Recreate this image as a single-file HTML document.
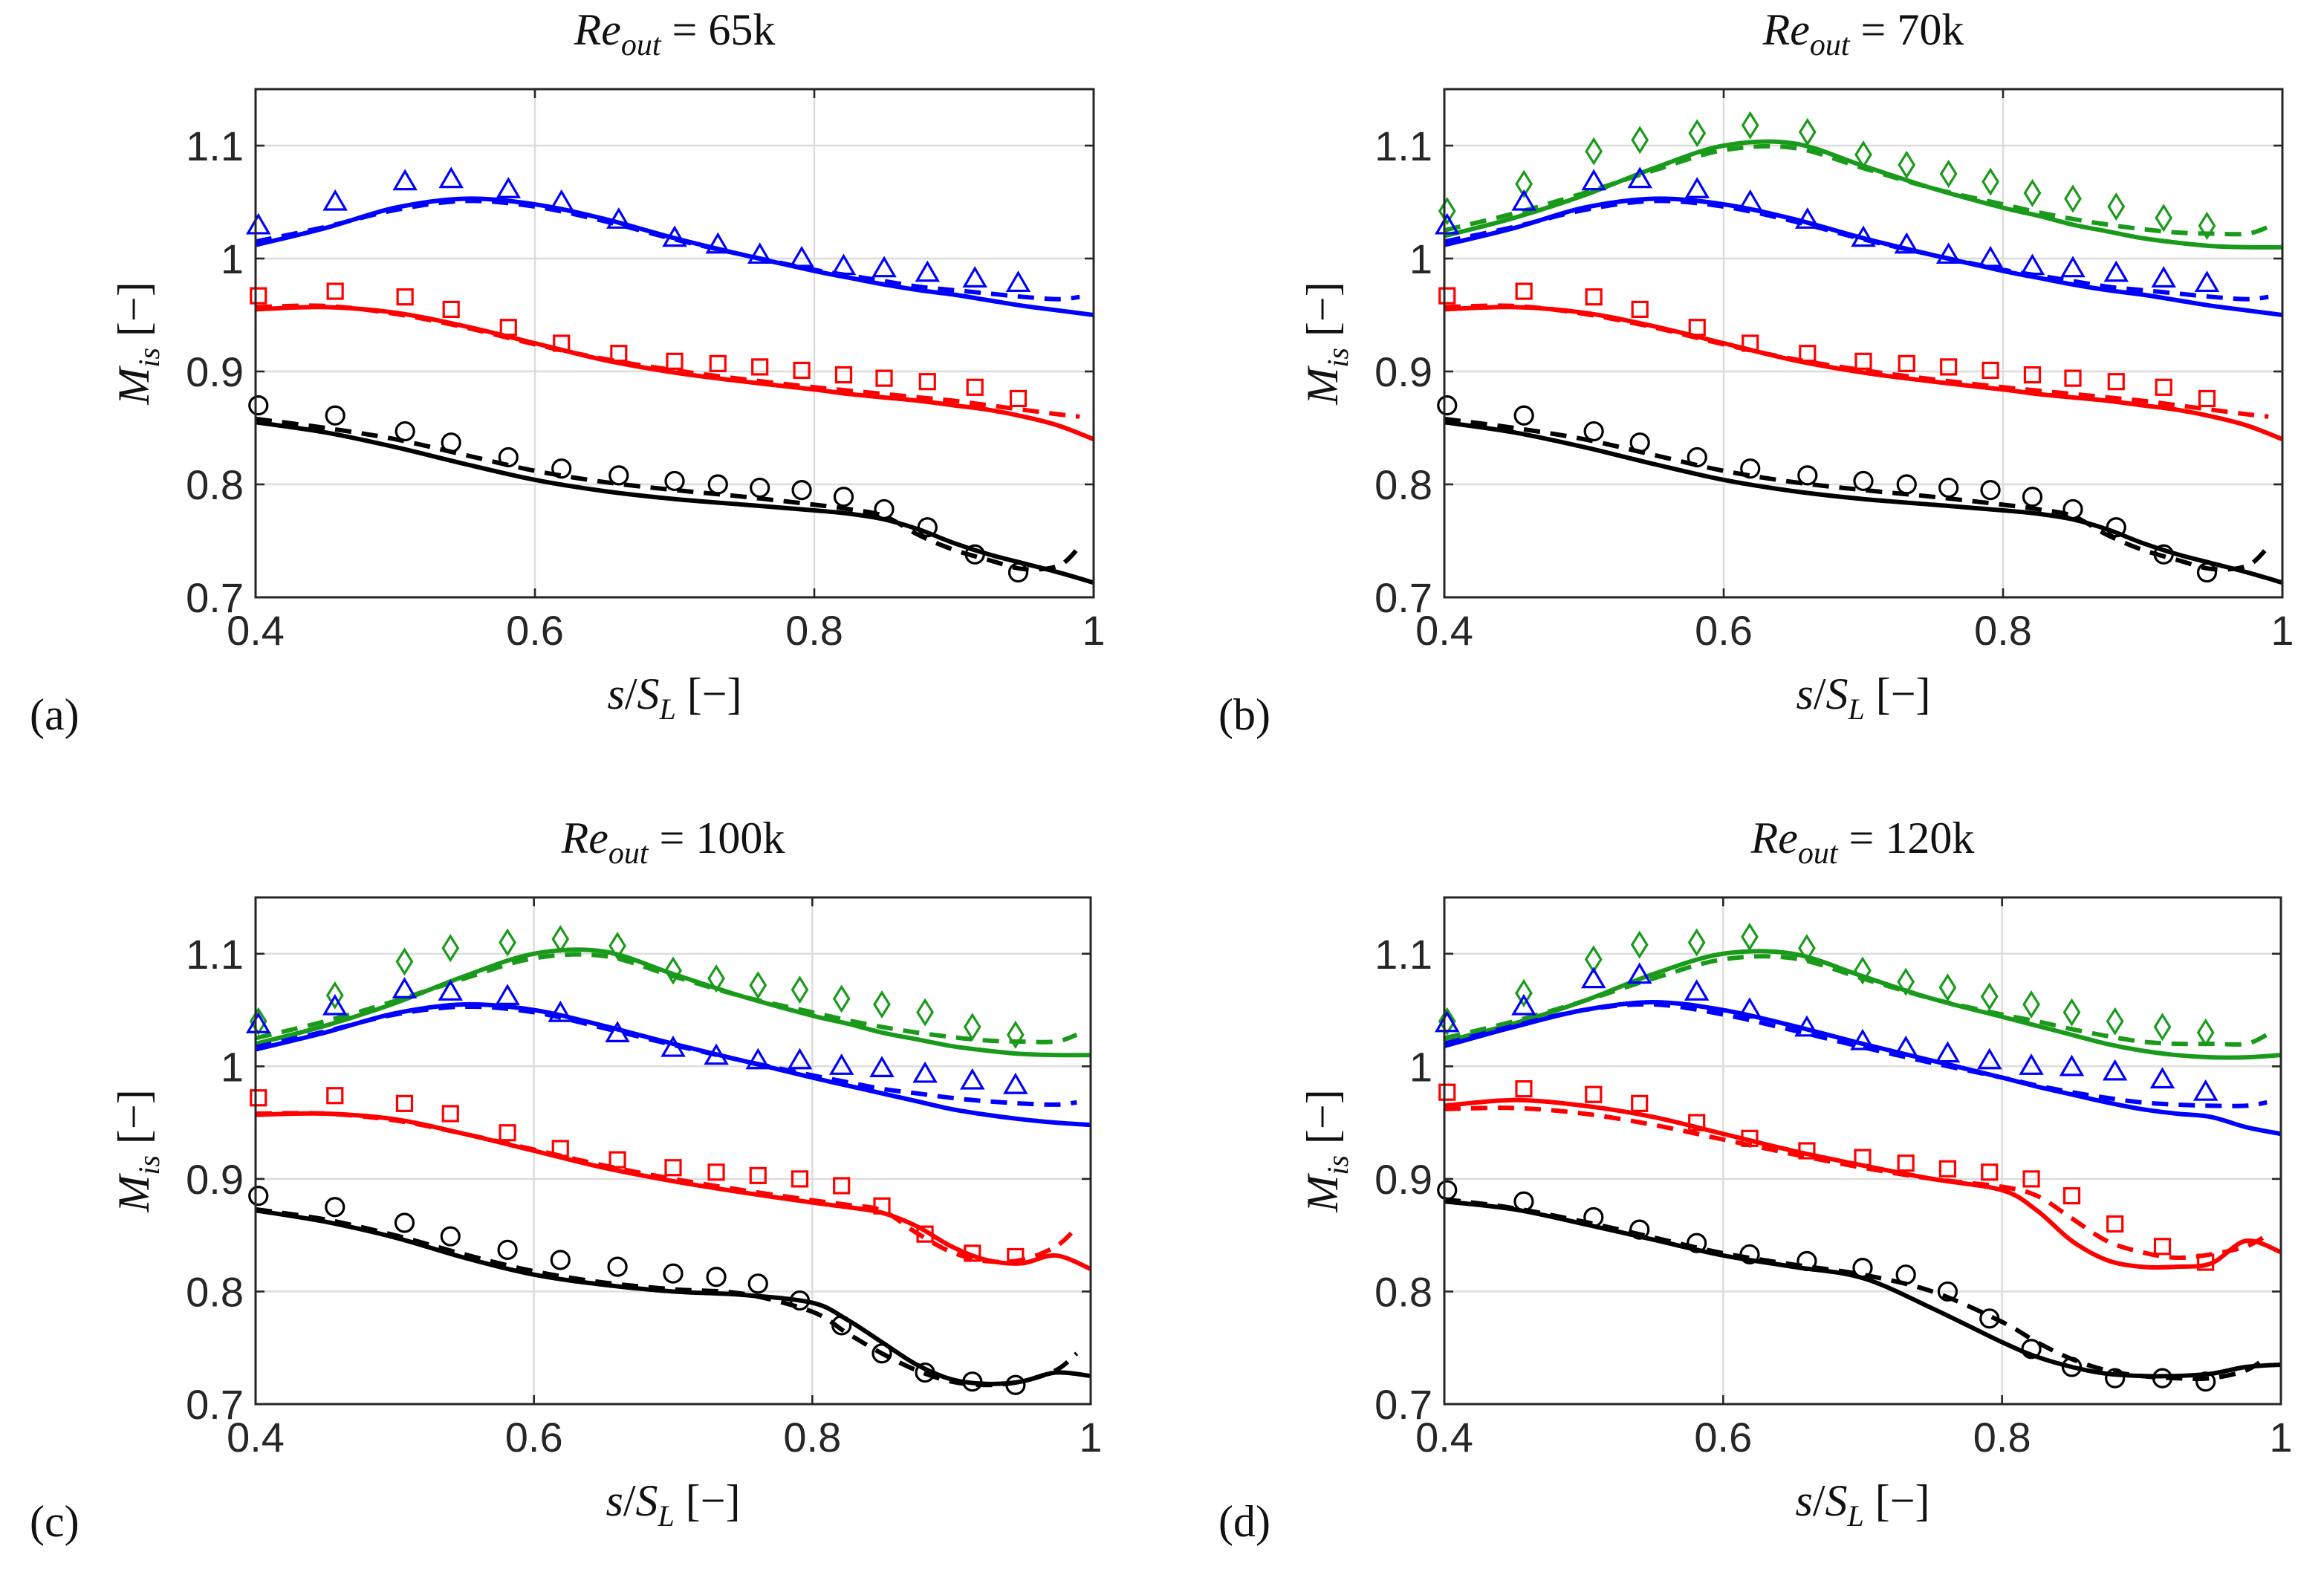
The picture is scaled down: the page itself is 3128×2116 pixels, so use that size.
<!DOCTYPE html>
<html><head><meta charset="utf-8">
<style>
html,body{margin:0;padding:0;background:#fff;}
svg{display:block;}
.tick{font-family:"Liberation Sans",sans-serif;font-size:28px;fill:#262626;}
.lab{font-family:"Liberation Serif",serif;font-size:30px;fill:#111;}
</style></head>
<body>
<svg id="chart" width="3128" height="2116" viewBox="0 0 1564 1058" xmlns="http://www.w3.org/2000/svg"></svg>
<script>
const lineX=[0.4,0.45,0.5,0.55,0.6,0.65,0.7,0.75,0.8,0.825,0.85,0.875,0.9,0.925,0.95,0.975,1.0];
const markerX=[0.402,0.457,0.507,0.540,0.581,0.619,0.660,0.700,0.731,0.761,0.791,0.821,0.850,0.881,0.915,0.946];
const panelTitles=["65k","70k","100k","120k"];
const panelLetters=["(a)","(b)","(c)","(d)"];
const xTicks=[0.4,0.6,0.8,1];
const yTicks=[0.7,0.8,0.9,1,1.1];
// panel a
const aBlueSolid=[1.012,1.027,1.045,1.053,1.048,1.035,1.018,1.003,0.989,0.983,0.977,0.972,0.968,0.963,0.958,0.954,0.950];
const aBlueDash=[1.015,1.028,1.043,1.051,1.046,1.033,1.017,1.003,0.990,0.985,0.980,0.975,0.972,0.969,0.966,0.964,0.966];
const aRedSolid=[0.955,0.957,0.952,0.940,0.925,0.910,0.899,0.891,0.884,0.880,0.877,0.874,0.870,0.866,0.860,0.852,0.840];
const aRedDash=[0.957,0.958,0.951,0.939,0.924,0.911,0.901,0.893,0.886,0.883,0.880,0.877,0.874,0.870,0.866,0.862,0.860];
const aBlackSolid=[0.855,0.846,0.833,0.818,0.804,0.794,0.787,0.782,0.777,0.774,0.769,0.760,0.748,0.738,0.730,0.722,0.713];
const aBlackDash=[0.858,0.850,0.840,0.826,0.812,0.802,0.795,0.789,0.782,0.778,0.772,0.755,0.742,0.733,0.725,0.728,0.745];
const aTri=[1.029,1.050,1.068,1.070,1.061,1.050,1.034,1.018,1.012,1.003,1.000,0.993,0.991,0.987,0.982,0.978];
const aSq=[0.967,0.971,0.966,0.955,0.939,0.925,0.916,0.909,0.907,0.904,0.901,0.897,0.894,0.891,0.886,0.876];
const aCirc=[0.870,0.861,0.847,0.837,0.824,0.814,0.808,0.803,0.800,0.797,0.795,0.789,0.778,0.762,0.738,0.722];
// panel b
const bGreenSolid=[1.020,1.036,1.056,1.080,1.100,1.102,1.082,1.062,1.045,1.038,1.030,1.024,1.018,1.014,1.011,1.010,1.010];
const bGreenDash=[1.025,1.040,1.058,1.078,1.096,1.098,1.080,1.062,1.048,1.041,1.035,1.030,1.026,1.023,1.022,1.022,1.028];
const bDia=[1.042,1.066,1.095,1.105,1.111,1.118,1.112,1.092,1.083,1.075,1.068,1.058,1.053,1.046,1.036,1.029];
// panel c
const cBlueSolid=[1.015,1.030,1.047,1.055,1.050,1.036,1.020,1.005,0.990,0.983,0.976,0.969,0.962,0.957,0.953,0.950,0.948];
const cBlueDash=[1.017,1.031,1.046,1.053,1.048,1.034,1.019,1.005,0.992,0.986,0.980,0.976,0.972,0.969,0.967,0.966,0.968];
const cRedSolid=[0.957,0.958,0.953,0.940,0.925,0.910,0.898,0.888,0.879,0.875,0.870,0.858,0.840,0.828,0.825,0.832,0.820];
const cRedDash=[0.958,0.958,0.952,0.940,0.926,0.912,0.900,0.890,0.881,0.877,0.872,0.852,0.835,0.827,0.828,0.840,0.857];
const cBlackSolid=[0.872,0.862,0.848,0.830,0.815,0.806,0.800,0.797,0.790,0.775,0.755,0.735,0.722,0.718,0.720,0.728,0.725];
const cBlackDash=[0.873,0.864,0.850,0.833,0.818,0.808,0.802,0.798,0.782,0.763,0.745,0.730,0.720,0.717,0.720,0.730,0.745];
const cTri=[1.037,1.053,1.068,1.066,1.062,1.047,1.029,1.016,1.009,1.005,1.005,1.000,0.998,0.993,0.987,0.983];
const cSq=[0.972,0.974,0.967,0.958,0.941,0.927,0.917,0.910,0.906,0.903,0.900,0.894,0.876,0.851,0.834,0.831];
const cCirc=[0.885,0.875,0.861,0.849,0.837,0.828,0.822,0.816,0.813,0.807,0.792,0.770,0.745,0.728,0.720,0.717];
const cDia=[1.040,1.063,1.093,1.105,1.110,1.113,1.107,1.085,1.078,1.072,1.068,1.060,1.055,1.048,1.035,1.028];
// panel d
const dBlueSolid=[1.018,1.035,1.050,1.057,1.050,1.036,1.020,1.005,0.990,0.982,0.975,0.968,0.962,0.958,0.955,0.946,0.940];
const dBlueDash=[1.020,1.036,1.050,1.055,1.046,1.032,1.017,1.003,0.990,0.983,0.977,0.972,0.968,0.966,0.965,0.965,0.968];
const dGreenSolid=[1.022,1.038,1.058,1.082,1.100,1.100,1.080,1.060,1.044,1.036,1.028,1.020,1.014,1.010,1.008,1.008,1.010];
const dGreenDash=[1.025,1.040,1.058,1.078,1.095,1.096,1.078,1.060,1.046,1.040,1.033,1.027,1.022,1.020,1.020,1.020,1.028];
const dRedSolid=[0.965,0.970,0.965,0.955,0.940,0.925,0.912,0.900,0.890,0.872,0.845,0.828,0.822,0.822,0.825,0.845,0.835];
const dRedDash=[0.962,0.963,0.958,0.948,0.935,0.922,0.910,0.900,0.893,0.885,0.865,0.845,0.835,0.830,0.833,0.840,0.850];
const dBlackSolid=[0.880,0.873,0.860,0.846,0.832,0.822,0.812,0.785,0.755,0.742,0.733,0.727,0.725,0.725,0.727,0.733,0.735];
const dBlackDash=[0.882,0.874,0.862,0.848,0.834,0.824,0.815,0.800,0.773,0.755,0.740,0.730,0.725,0.723,0.723,0.730,0.742];
const dTri=[1.038,1.053,1.077,1.081,1.066,1.050,1.034,1.022,1.016,1.011,1.005,1.000,0.999,0.995,0.988,0.977];
const dSq=[0.977,0.980,0.975,0.967,0.950,0.936,0.925,0.919,0.914,0.909,0.906,0.900,0.885,0.860,0.840,0.826];
const dCirc=[0.890,0.880,0.866,0.855,0.843,0.833,0.827,0.821,0.815,0.800,0.776,0.749,0.733,0.723,0.723,0.720];
const dDia=[1.040,1.065,1.095,1.108,1.110,1.115,1.105,1.085,1.075,1.070,1.062,1.055,1.048,1.040,1.035,1.030];

const NS="http://www.w3.org/2000/svg";
const svg=document.getElementById('chart');
const BLUE="#0000ff",RED="#ff0000",BLACK="#000000",GREEN="#1a9a1a";
const panels=[
 {x0:172,x1:736,y0:60,y1:402,lines:[[aBlueSolid,aBlueDash,BLUE,'blue'],[aRedSolid,aRedDash,RED,'red'],[aBlackSolid,aBlackDash,BLACK,'black']],marks:[[aTri,'tri',BLUE],[aSq,'sq',RED],[aCirc,'circ',BLACK]]},
 {x0:972,x1:1536,y0:60,y1:402,lines:[[bGreenSolid,bGreenDash,GREEN,'green'],[aBlueSolid,aBlueDash,BLUE,'blue'],[aRedSolid,aRedDash,RED,'red'],[aBlackSolid,aBlackDash,BLACK,'black']],marks:[[bDia,'dia',GREEN],[aTri,'tri',BLUE],[aSq,'sq',RED],[aCirc,'circ',BLACK]]},
 {x0:172,x1:734,y0:604,y1:945,lines:[[bGreenSolid,bGreenDash,GREEN,'green'],[cBlueSolid,cBlueDash,BLUE,'blue'],[cRedSolid,cRedDash,RED,'red'],[cBlackSolid,cBlackDash,BLACK,'black']],marks:[[cDia,'dia',GREEN],[cTri,'tri',BLUE],[cSq,'sq',RED],[cCirc,'circ',BLACK]]},
 {x0:972,x1:1535,y0:604,y1:945,lines:[[dGreenSolid,dGreenDash,GREEN,'green'],[dBlueSolid,dBlueDash,BLUE,'blue'],[dRedSolid,dRedDash,RED,'red'],[dBlackSolid,dBlackDash,BLACK,'black']],marks:[[dDia,'dia',GREEN],[dTri,'tri',BLUE],[dSq,'sq',RED],[dCirc,'circ',BLACK]]}
];
function mk(tag,attrs,parent){const e=document.createElementNS(NS,tag);for(const k in attrs)e.setAttribute(k,attrs[k]);(parent||svg).appendChild(e);return e;}
function smooth(pts){let d=`M${pts[0][0]},${pts[0][1]}`;for(let i=0;i<pts.length-1;i++){const p0=pts[Math.max(0,i-1)],p1=pts[i],p2=pts[i+1],p3=pts[Math.min(pts.length-1,i+2)];const c1x=p1[0]+(p2[0]-p0[0])/6,c1y=p1[1]+(p2[1]-p0[1])/6,c2x=p2[0]-(p3[0]-p1[0])/6,c2y=p2[1]-(p3[1]-p1[1])/6;d+=` C${c1x},${c1y} ${c2x},${c2y} ${p2[0]},${p2[1]}`;}return d;}
panels.forEach((p,pi)=>{
 const g=mk('g',{});
 
 
 const X=v=>p.x0+(v-0.4)/0.6*(p.x1-p.x0);
 const Y=v=>p.y1-(v-0.7)/0.45*(p.y1-p.y0);
 xTicks.slice(1,3).forEach(t=>{const l=mk('line',{x1:X(t),x2:X(t),y1:p.y0,y2:p.y1,stroke:'#dcdcdc','stroke-width':1.2},g);});
 yTicks.slice(1).forEach(t=>{const l=mk('line',{x1:p.x0,x2:p.x1,y1:Y(t),y2:Y(t),stroke:'#dcdcdc','stroke-width':1.2},g);});
 const cp=mk('clipPath',{id:'clip'+pi},g);mk('rect',{x:p.x0,y:p.y0,width:p.x1-p.x0,height:p.y1-p.y0},cp);
 p.lines.forEach(([s,dsh,col,nm])=>{
  const ps=mk('path',{d:smooth(lineX.map((x,i)=>[X(x),Y(s[i])])),fill:'none',stroke:col,'stroke-width':3,'clip-path':`url(#clip${pi})`},g);
  
  const pd=mk('path',{d:smooth(lineX.slice(0,-1).map((x,i)=>[X(x),Y(dsh[i])]).concat([[X(0.99),Y(dsh[16])]])),fill:'none',stroke:col,'stroke-width':3,'stroke-dasharray':'11,7','clip-path':`url(#clip${pi})`},g);
  
 });
 p.marks.forEach(([vals,shape,col])=>{
  vals.forEach((v,i)=>{
   const cx=X(markerX[i]),cy=Y(v);let e;
   if(shape==='circ')e=mk('circle',{cx,cy,r:6,fill:'none',stroke:col,'stroke-width':1.6},g);
   else if(shape==='sq')e=mk('rect',{x:cx-5,y:cy-5,width:10,height:10,fill:'none',stroke:col,'stroke-width':1.6},g);
   else if(shape==='tri')e=mk('polygon',{points:`${cx},${cy-7} ${cx+7},${cy+5} ${cx-7},${cy+5}`,fill:'none',stroke:col,'stroke-width':1.6},g);
   else e=mk('polygon',{points:`${cx},${cy-8} ${cx+5},${cy} ${cx},${cy+8} ${cx-5},${cy}`,fill:'none',stroke:col,'stroke-width':1.6},g);
   
  });
 });
 const b=mk('rect',{x:p.x0,y:p.y0,width:p.x1-p.x0,height:p.y1-p.y0,fill:'none',stroke:'#262626','stroke-width':1.5},g);
 
 xTicks.forEach(t=>{
  mk('line',{x1:X(t),x2:X(t),y1:p.y1,y2:p.y1-6,stroke:'#262626','stroke-width':1.3},g);
  mk('line',{x1:X(t),x2:X(t),y1:p.y0,y2:p.y0+6,stroke:'#262626','stroke-width':1.3},g);
  const tx=mk('text',{x:X(t),y:p.y1+32,'text-anchor':'middle',class:'tick'},g);tx.textContent=String(t);
  
 });
 yTicks.forEach(t=>{
  mk('line',{x1:p.x0,x2:p.x0+6,y1:Y(t),y2:Y(t),stroke:'#262626','stroke-width':1.3},g);
  mk('line',{x1:p.x1,x2:p.x1-6,y1:Y(t),y2:Y(t),stroke:'#262626','stroke-width':1.3},g);
  const ty=mk('text',{x:p.x0-8,y:Y(t)+10,'text-anchor':'end',class:'tick'},g);ty.textContent=String(t);
  
 });
 const cx=(p.x0+p.x1)/2;
 const ti=mk('text',{x:cx,y:p.y0-30,'text-anchor':'middle',class:'lab','font-size':30},g);
 ti.innerHTML=`<tspan font-style="italic">Re</tspan><tspan font-style="italic" font-size="21" dy="7">out</tspan><tspan dy="-7"> = ${panelTitles[pi]}</tspan>`;
 
 const xl=mk('text',{x:cx,y:p.y1+75,'text-anchor':'middle',class:'lab'},g);
 xl.innerHTML=`<tspan font-style="italic">s</tspan>/<tspan font-style="italic">S</tspan><tspan font-style="italic" font-size="20" dy="7">L</tspan><tspan dy="-7"> [−]</tspan>`;
 
 const yl=mk('text',{x:0,y:0,'text-anchor':'middle',class:'lab',transform:`translate(${p.x0-72},${(p.y0+p.y1)/2}) rotate(-90)`},g);
 yl.innerHTML=`<tspan font-style="italic">M</tspan><tspan font-style="italic" font-size="20" dy="7">is</tspan><tspan dy="-7"> [−]</tspan>`;
 
 const lt=mk('text',{x:p.x0-152,y:p.y1+89,class:'lab','font-size':32},g);lt.textContent=panelLetters[pi];
 
});
</script>
</body></html>
